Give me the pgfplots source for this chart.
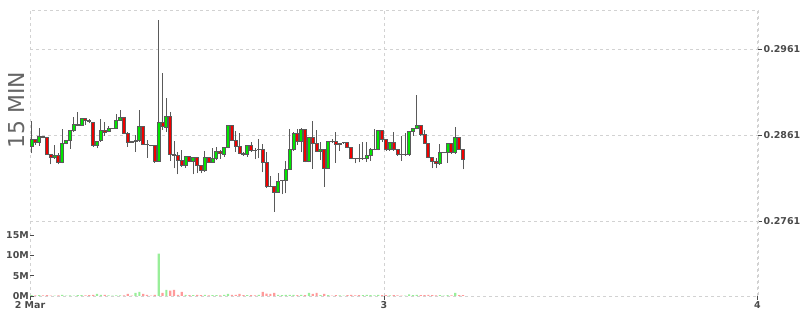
\documentclass[border=0pt]{standalone}
\usepackage{pgfplots}
\pgfplotsset{compat=1.18}
\usepackage{pgfplotstable}
\usepackage{fontspec}
\setmainfont{DejaVu Sans}
\definecolor{cgreen}{HTML}{00E600}
\definecolor{cred}{HTML}{F00000}
\definecolor{outl}{HTML}{5A5A5A}
\definecolor{gridc}{HTML}{D2D2D2}
\definecolor{lblc}{HTML}{4A4A4A}
\definecolor{titc}{HTML}{666666}
\definecolor{vgreen}{HTML}{99EE99}
\definecolor{vred}{HTML}{FF9A9A}

\pgfplotstableread{
k o h l c v
0 0.28474 0.28773 0.28397 0.28552 0.20
1 0.28552 0.28564 0.28494 0.28525 0.15
2 0.28525 0.28688 0.28486 0.28591 0.20
3 0.28595 0.28602 0.28571 0.28583 0.15
4 0.28583 0.28591 0.28378 0.28385 0.20
5 0.28385 0.28393 0.28269 0.28350 0.10
6 0.28350 0.28494 0.28331 0.28370 0.10
7 0.28370 0.28397 0.28269 0.28292 0.15
8 0.28292 0.28676 0.28281 0.28513 0.30
9 0.28513 0.28556 0.28502 0.28548 0.10
10 0.28544 0.28668 0.28447 0.28664 0.15
11 0.28664 0.28819 0.28649 0.28734 0.10
12 0.28726 0.28878 0.28715 0.28734 0.20
13 0.28726 0.28812 0.28719 0.28800 0.20
14 0.28800 0.28808 0.28726 0.28773 0.15
15 0.28773 0.28796 0.28746 0.28761 0.20
16 0.28757 0.28765 0.28471 0.28482 0.25
17 0.28482 0.28540 0.28455 0.28533 0.50
18 0.28540 0.28796 0.28533 0.28660 0.30
19 0.28660 0.28757 0.28602 0.28641 0.25
20 0.28649 0.28715 0.28641 0.28688 0.15
21 0.28688 0.28695 0.28680 0.28691 0.10
22 0.28688 0.28854 0.28684 0.28781 0.15
23 0.28781 0.28897 0.28773 0.28816 0.15
24 0.28816 0.28823 0.28626 0.28633 0.15
25 0.28633 0.28641 0.28474 0.28525 0.50
26 0.28529 0.28536 0.28521 0.28525 0.10
27 0.28529 0.28610 0.28416 0.28544 0.75
28 0.28540 0.28901 0.28533 0.28711 1.00
29 0.28711 0.28719 0.28494 0.28502 0.50
30 0.28498 0.28548 0.28347 0.28494 0.25
31 0.28490 0.28494 0.28478 0.28486 0.10
32 0.28486 0.28494 0.28288 0.28300 0.30
33 0.28300 0.29947 0.28296 0.28757 10.40
34 0.28757 0.29327 0.28668 0.28703 0.75
35 0.28699 0.29036 0.28649 0.28823 1.50
36 0.28823 0.28881 0.28312 0.28385 1.30
37 0.28385 0.28540 0.28223 0.28374 1.50
38 0.28370 0.28416 0.28153 0.28312 0.30
39 0.28312 0.28436 0.28242 0.28250 1.00
40 0.28250 0.28366 0.28230 0.28358 0.30
41 0.28358 0.28366 0.28292 0.28300 0.20
42 0.28300 0.28354 0.28153 0.28347 0.20
43 0.28347 0.28354 0.28164 0.28254 0.25
44 0.28254 0.28261 0.28164 0.28192 0.20
45 0.28192 0.28424 0.28184 0.28347 0.25
46 0.28347 0.28354 0.28285 0.28292 0.15
47 0.28292 0.28455 0.28285 0.28331 0.20
48 0.28331 0.28471 0.28319 0.28416 0.20
49 0.28416 0.28436 0.28331 0.28389 0.15
50 0.28385 0.28471 0.28358 0.28463 0.25
51 0.28463 0.28726 0.28455 0.28722 0.50
52 0.28722 0.28730 0.28540 0.28544 0.30
53 0.28544 0.28657 0.28416 0.28474 0.25
54 0.28474 0.28637 0.28385 0.28397 0.50
55 0.28397 0.28408 0.28370 0.28381 0.20
56 0.28378 0.28494 0.28358 0.28482 0.20
57 0.28482 0.28525 0.28416 0.28428 0.20
58 0.28432 0.28455 0.28327 0.28424 0.15
59 0.28436 0.28564 0.28339 0.28440 0.25
60 0.28440 0.28502 0.28176 0.28292 1.00
61 0.28292 0.28416 0.27998 0.28009 0.60
62 0.28013 0.28133 0.28002 0.28009 0.50
63 0.28009 0.28017 0.27719 0.27943 0.75
64 0.27943 0.28164 0.27936 0.28071 0.30
65 0.28075 0.28091 0.27920 0.28083 0.20
66 0.28079 0.28312 0.27932 0.28211 0.30
67 0.28211 0.28680 0.28203 0.28444 0.30
68 0.28444 0.28649 0.28424 0.28629 0.25
69 0.28629 0.28680 0.28494 0.28533 0.20
70 0.28533 0.28688 0.28409 0.28668 0.25
71 0.28668 0.28676 0.28292 0.28300 0.20
72 0.28300 0.28591 0.28292 0.28583 0.75
73 0.28583 0.28773 0.28215 0.28513 0.50
74 0.28513 0.28668 0.28412 0.28416 0.75
75 0.28420 0.28533 0.28319 0.28436 0.20
76 0.28440 0.28447 0.28009 0.28223 0.50
77 0.28223 0.28540 0.28215 0.28533 0.20
78 0.28533 0.28560 0.28517 0.28529 0.10
79 0.28533 0.28641 0.28285 0.28494 0.20
80 0.28505 0.28521 0.28428 0.28509 0.15
81 0.28521 0.28533 0.28509 0.28525 0.10
82 0.28521 0.28533 0.28455 0.28463 0.20
83 0.28463 0.28471 0.28331 0.28339 0.25
84 0.28339 0.28347 0.28281 0.28335 0.15
85 0.28335 0.28502 0.28292 0.28331 0.20
86 0.28331 0.28533 0.28323 0.28335 0.20
87 0.28331 0.28533 0.28300 0.28370 0.25
88 0.28370 0.28463 0.28308 0.28440 0.20
89 0.28440 0.28676 0.28432 0.28443 0.15
90 0.28440 0.28668 0.28432 0.28660 0.30
91 0.28660 0.28668 0.28533 0.28560 0.20
92 0.28560 0.28567 0.28428 0.28436 0.20
93 0.28436 0.28529 0.28428 0.28521 0.15
94 0.28521 0.28641 0.28428 0.28436 0.20
95 0.28436 0.28443 0.28370 0.28378 0.15
96 0.28381 0.28602 0.28312 0.28378 0.10
97 0.28381 0.28629 0.28370 0.28385 0.10
98 0.28385 0.28657 0.28370 0.28649 0.40
99 0.28649 0.28691 0.28602 0.28684 0.20
100 0.28684 0.29075 0.28676 0.28715 0.30
101 0.28715 0.28722 0.28602 0.28610 0.20
102 0.28610 0.28668 0.28505 0.28513 0.20
103 0.28513 0.28521 0.28339 0.28347 0.25
104 0.28347 0.28354 0.28223 0.28300 0.20
105 0.28300 0.28339 0.28223 0.28273 0.15
106 0.28273 0.28502 0.28265 0.28409 0.20
107 0.28409 0.28416 0.28401 0.28412 0.10
108 0.28409 0.28521 0.28288 0.28513 0.20
109 0.28513 0.28521 0.28393 0.28401 0.15
110 0.28401 0.28699 0.28393 0.28579 0.75
111 0.28579 0.28587 0.28436 0.28443 0.20
112 0.28443 0.28451 0.28211 0.28327 0.20
}\candles

\begin{document}
\begin{tikzpicture}
\useasboundingbox (0,0) rectangle (800bp,315bp);
\pgfplotsset{
  common/.style={at={(30bp,19bp)}, anchor=south west, scale only axis, width=728bp,
    xmin=-0.39, xmax=188.55},
  lblfont/.style={font=\bfseries\fontsize{9.5}{11}\selectfont, text=lblc},
}
% price axis with grid and wicks
\begin{axis}[common, height=286bp, ymin=0.26738, ymax=0.30063,
  axis line style={draw=gridc, dash pattern=on 3bp off 3bp, line width=0.8bp},
  xtick={-0.39,91.49,188.4}, xticklabels={2 Mar,3,4},
  ytick={0.2761,0.2861,0.2961}, yticklabels={0.2761,0.2861,0.2961},
  ytick pos=right, xtick pos=bottom, tick align=outside, major tick length=4bp,
  tick style={draw=lblc, line width=0.8bp, solid},
  grid=major, grid style={draw=gridc, dash pattern=on 3bp off 3bp, line width=0.8bp},
  ticklabel style={lblfont},
  yticklabel style={inner sep=1.5bp},
  xticklabel style={inner sep=1bp}]
\addplot[draw=none, no markers, error bars/.cd, y dir=plus, y explicit, error mark=none,
  error bar style={draw=outl, line width=0.9bp, solid}]
  table[x=k, y=l, y error expr=\thisrow{h}-\thisrow{l}] {\candles};
\end{axis}
% candle bodies
\begin{axis}[common, height=286bp, ymin=0.26738, ymax=0.30063, hide axis,
  ybar stacked, bar width=3bp]
\addplot[draw=none, fill=none] table[x=k, y expr={min(\thisrow{o},\thisrow{c})}] {\candles};
\addplot[fill=cgreen, draw=outl, line width=1bp] table[x=k, y expr={max(\thisrow{c}-\thisrow{o},0)}] {\candles};
\addplot[fill=cred, draw=outl, line width=1bp] table[x=k, y expr={max(\thisrow{o}-\thisrow{c},0)}] {\candles};
\end{axis}
% volume axis
\begin{axis}[common, height=76bp, ymin=0, ymax=18.7, ybar, bar width=2.2bp,
  axis line style={draw=none}, xtick=\empty,
  ytick={0,5,10,15}, yticklabels={0M,5M,10M,15M}, ytick pos=left,
  tick align=inside, major tick length=4bp, tick style={draw=lblc, line width=0.8bp},
  yticklabel style={lblfont, inner sep=1bp}]
\addplot[fill=vgreen, draw=none, bar shift=0pt] table[x=k, y expr={\thisrow{c}>=\thisrow{o} ? \thisrow{v} : 0}] {\candles};
\addplot[fill=vred, draw=none, bar shift=0pt] table[x=k, y expr={\thisrow{c}<\thisrow{o} ? \thisrow{v} : 0}] {\candles};
\end{axis}
\node[rotate=90, font=\fontsize{22}{26}\selectfont, text=titc] at (17bp,110bp+95bp) {15 MIN};
\end{tikzpicture}
\end{document}
